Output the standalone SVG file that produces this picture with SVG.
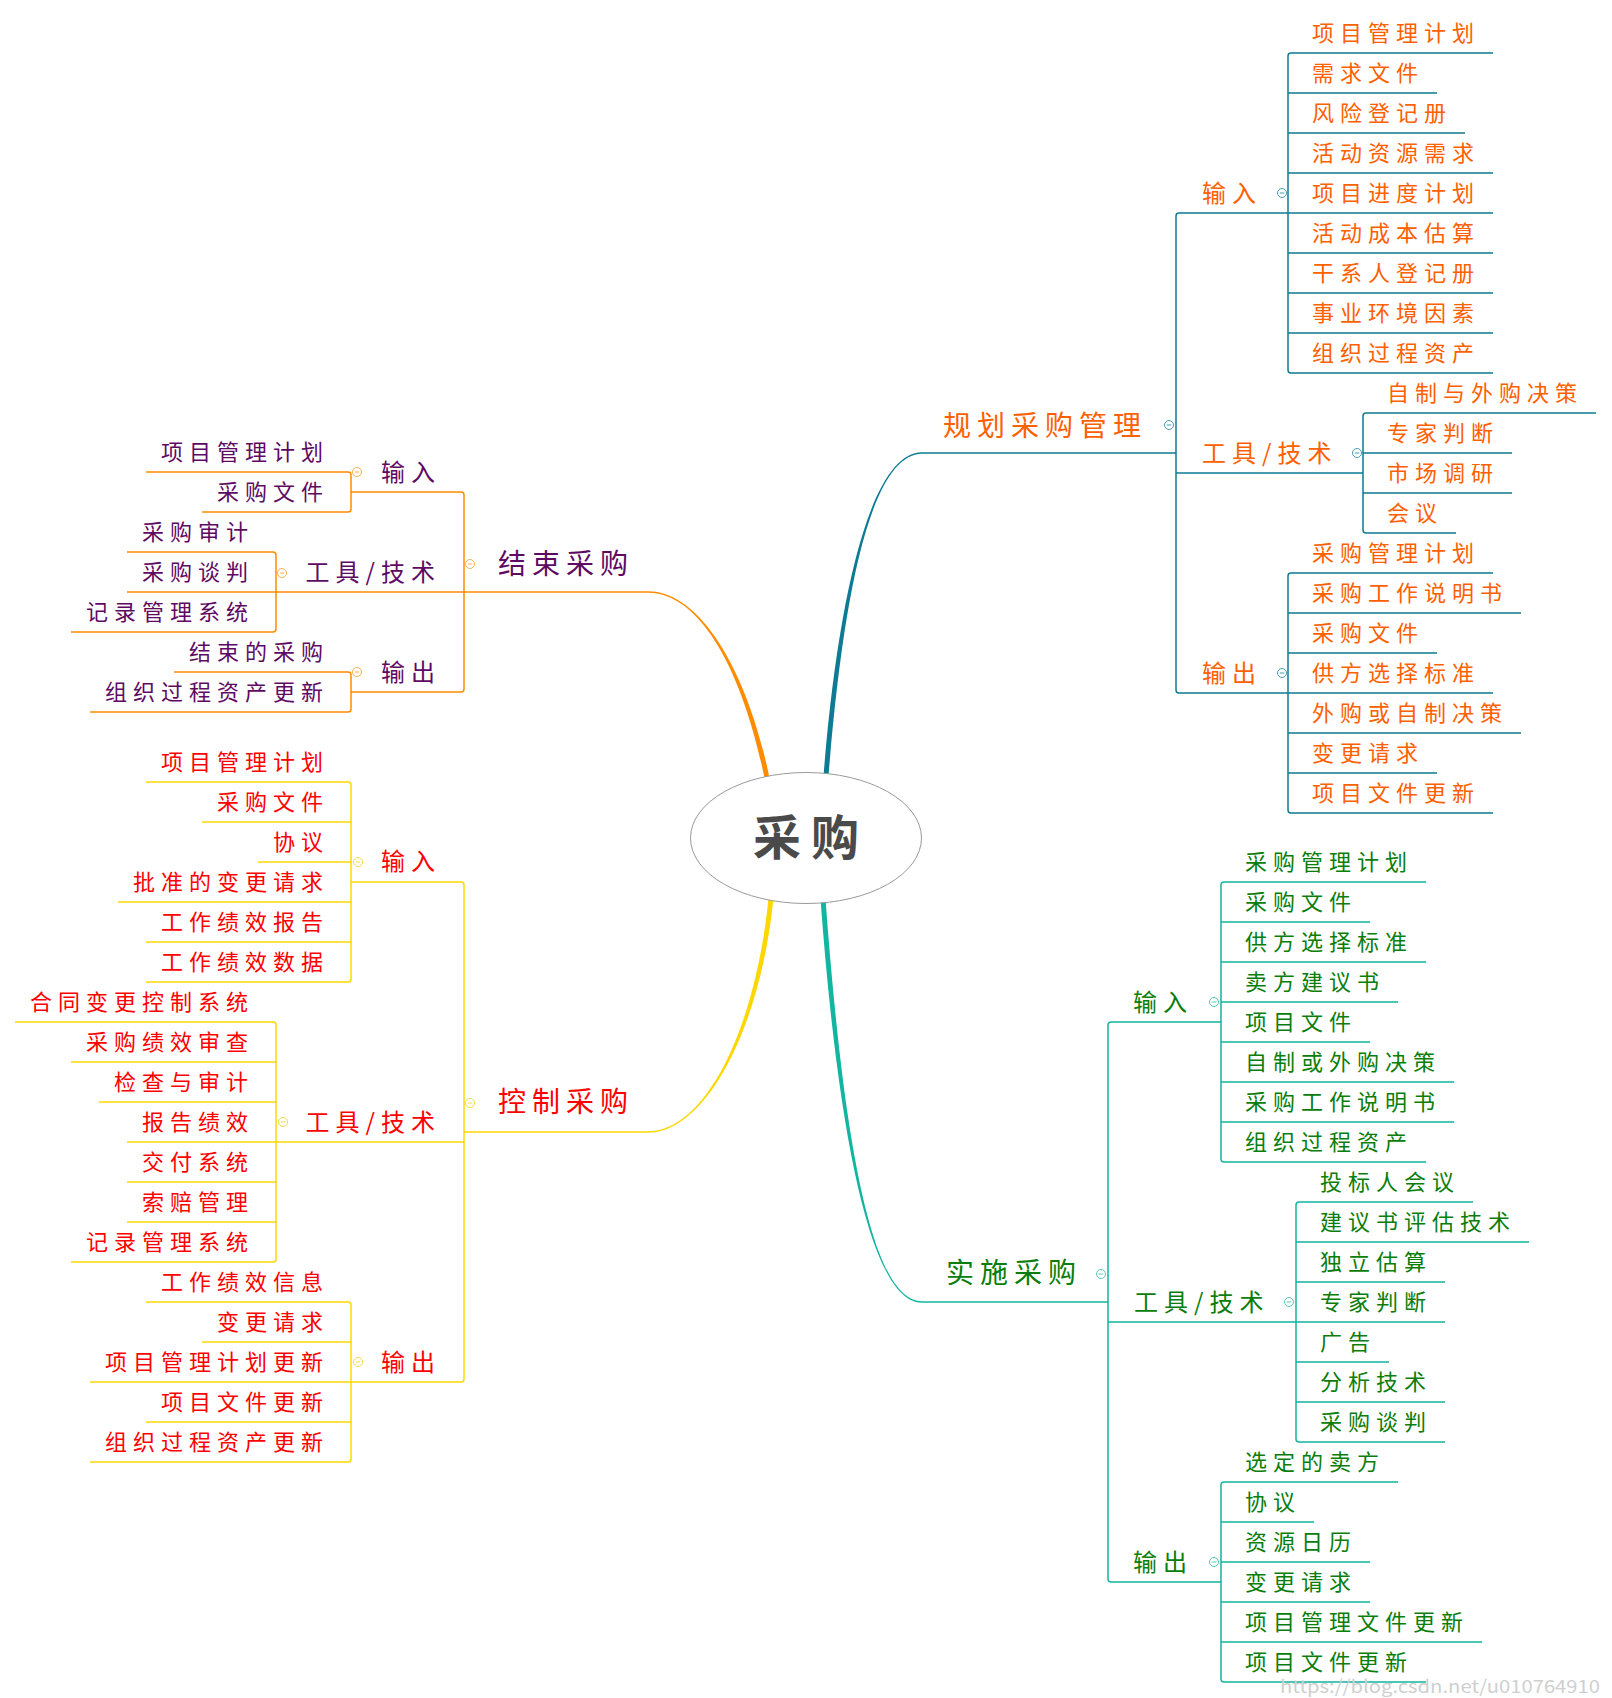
<svg xmlns="http://www.w3.org/2000/svg" width="1612" height="1698" viewBox="0 0 1612 1698">
<style>
text{font-family:"Noto Sans CJK SC","Noto Sans",sans-serif}
.it{font-size:22px;letter-spacing:6px}
.lb{font-size:24px;letter-spacing:6px}
.tt{font-size:28px;letter-spacing:6px}
.c1,.c2,.c3,.c4{fill:none;stroke-width:1.5}
.c1{stroke:#0c7b93}.c2{stroke:#ff8c00}.c3{stroke:#ffd700}.c4{stroke:#12b5a0}
.f1{fill:#0c7b93}.f2{fill:#ff8c00}.f3{fill:#ffd700}.f4{fill:#12b5a0}
.t1{fill:#ff6000}.t2{fill:#5e0a63}.t3{fill:#ff0000}.t4{fill:#0a7d0a}
.e{text-anchor:end}
</style>
<defs>
<g id="tg"><circle r="4.5" fill="#fff" stroke="currentColor" stroke-width="1"/><line x1="-2.3" x2="2.3" y1="0" y2="0" stroke="currentColor" stroke-width="1"/></g>
</defs>
<rect width="1612" height="1698" fill="#fff"/>
<g id="connectors">
<g id="conn-plan">
<path class="f1" d="M823.5,776 C837.5,600 870,452.25 922,452.25 L922,453.75 C870,453.75 842.5,600 828.5,776 Z"/>
<path class="c1" d="M922,453H1176"/>
<path class="c1" d="M1288,213H1179Q1176,213 1176,216V690Q1176,693 1179,693H1288M1176,473H1363"/>
<path class="c1" d="M1493,53H1291Q1288,53 1288,56V370Q1288,373 1291,373H1493M1288,93H1437M1288,133H1465M1288,173H1493M1288,213H1493M1288,253H1493M1288,293H1493M1288,333H1493"/>
<path class="c1" d="M1596,413H1366Q1363,413 1363,416V530Q1363,533 1366,533H1456M1363,453H1512M1363,493H1512"/>
<path class="c1" d="M1493,573H1291Q1288,573 1288,576V810Q1288,813 1291,813H1493M1288,613H1521M1288,653H1437M1288,693H1493M1288,733H1521M1288,773H1437"/>
</g>
<g id="conn-close">
<path class="f2" d="M769.5,778 C747.5,670 700,591.25 648,591.25 L648,592.75 C700,592.75 742.5,670 764.5,778 Z"/>
<path class="c2" d="M648,592H464"/>
<path class="c2" d="M351,492H461Q464,492 464,495V689Q464,692 461,692H351M464,592H276"/>
<path class="c2" d="M146,472H348Q351,472 351,475V509Q351,512 348,512H202"/>
<path class="c2" d="M127,552H273Q276,552 276,555V629Q276,632 273,632H71M276,592H127"/>
<path class="c2" d="M174,672H348Q351,672 351,675V709Q351,712 348,712H90"/>
</g>
<g id="conn-control">
<path class="f3" d="M773.5,898 C760.5,1030 705,1132.75 648,1132.75 L648,1131.25 C705,1131.25 755.5,1030 768.5,898 Z"/>
<path class="c3" d="M648,1132H464"/>
<path class="c3" d="M351,882H461Q464,882 464,885V1379Q464,1382 461,1382H351M464,1142H276"/>
<path class="c3" d="M146,782H348Q351,782 351,785V979Q351,982 348,982H146M351,822H202M351,862H258M351,902H118M351,942H146"/>
<path class="c3" d="M15,1022H273Q276,1022 276,1025V1259Q276,1262 273,1262H71M276,1062H71M276,1102H99M276,1142H127M276,1182H127M276,1222H127"/>
<path class="c3" d="M146,1302H348Q351,1302 351,1305V1459Q351,1462 348,1462H90M351,1342H202M351,1382H90M351,1422H146"/>
</g>
<g id="conn-exec">
<path class="f4" d="M820.5,899 C837.5,1130 870,1302.75 922,1302.75 L922,1301.25 C870,1301.25 842.5,1130 825.5,899 Z"/>
<path class="c4" d="M922,1302H1108"/>
<path class="c4" d="M1221,1022H1111Q1108,1022 1108,1025V1579Q1108,1582 1111,1582H1221M1108,1322H1296"/>
<path class="c4" d="M1426,882H1224Q1221,882 1221,885V1159Q1221,1162 1224,1162H1426M1221,922H1370M1221,962H1426M1221,1002H1398M1221,1042H1370M1221,1082H1454M1221,1122H1454"/>
<path class="c4" d="M1473,1202H1299Q1296,1202 1296,1205V1439Q1296,1442 1299,1442H1445M1296,1242H1529M1296,1282H1445M1296,1322H1445M1296,1362H1389M1296,1402H1445"/>
<path class="c4" d="M1398,1482H1224Q1221,1482 1221,1485V1679Q1221,1682 1224,1682H1426M1221,1522H1314M1221,1562H1370M1221,1602H1370M1221,1642H1482"/>
</g>
</g>
<g id="root">
<ellipse cx="806" cy="838" rx="115.5" ry="65.5" fill="#fff" stroke="#999" stroke-width="1"/>
<text x="753" y="855" font-size="48" font-weight="700" letter-spacing="10" fill="#4a4a4a">采购</text>
</g>
<g id="n-plan">
<text class="tt t1" x="943" y="436">规划采购管理</text>
<use href="#tg" x="1169" y="425" style="color:#4a9ab0"/>
</g>
<g id="n-plan-in">
<text class="lb t1" x="1202" y="202">输入</text>
<use href="#tg" x="1282" y="193" style="color:#4a9ab0"/>
<g class="it t1">
<text x="1312" y="41">项目管理计划</text>
<text x="1312" y="81">需求文件</text>
<text x="1312" y="121">风险登记册</text>
<text x="1312" y="161">活动资源需求</text>
<text x="1312" y="201">项目进度计划</text>
<text x="1312" y="241">活动成本估算</text>
<text x="1312" y="281">干系人登记册</text>
<text x="1312" y="321">事业环境因素</text>
<text x="1312" y="361">组织过程资产</text>
</g>
</g>
<g id="n-plan-tools">
<text class="lb t1" x="1202" y="462">工具/技术</text>
<use href="#tg" x="1357" y="453" style="color:#4a9ab0"/>
<g class="it t1">
<text x="1387" y="401">自制与外购决策</text>
<text x="1387" y="441">专家判断</text>
<text x="1387" y="481">市场调研</text>
<text x="1387" y="521">会议</text>
</g>
</g>
<g id="n-plan-out">
<text class="lb t1" x="1202" y="682">输出</text>
<use href="#tg" x="1282" y="673" style="color:#4a9ab0"/>
<g class="it t1">
<text x="1312" y="561">采购管理计划</text>
<text x="1312" y="601">采购工作说明书</text>
<text x="1312" y="641">采购文件</text>
<text x="1312" y="681">供方选择标准</text>
<text x="1312" y="721">外购或自制决策</text>
<text x="1312" y="761">变更请求</text>
<text x="1312" y="801">项目文件更新</text>
</g>
</g>
<g id="n-close">
<text class="tt t2" x="498" y="574">结束采购</text>
<use href="#tg" x="470" y="564" style="color:#ffb050"/>
</g>
<g id="n-close-in">
<text class="lb t2" x="381" y="481">输入</text>
<use href="#tg" x="357" y="472" style="color:#ffb050"/>
<g class="it t2">
<text x="161" y="460">项目管理计划</text>
<text x="217" y="500">采购文件</text>
</g>
</g>
<g id="n-close-tools">
<text class="lb t2 e" x="441" y="581">工具/技术</text>
<use href="#tg" x="282" y="573" style="color:#ffb050"/>
<g class="it t2">
<text x="142" y="540">采购审计</text>
<text x="142" y="580">采购谈判</text>
<text x="86" y="620">记录管理系统</text>
</g>
</g>
<g id="n-close-out">
<text class="lb t2" x="381" y="681">输出</text>
<use href="#tg" x="357" y="672" style="color:#ffb050"/>
<g class="it t2">
<text x="189" y="660">结束的采购</text>
<text x="105" y="700">组织过程资产更新</text>
</g>
</g>
<g id="n-control">
<text class="tt t3" x="498" y="1112">控制采购</text>
<use href="#tg" x="470" y="1103" style="color:#f5d850"/>
</g>
<g id="n-control-in">
<text class="lb t3" x="381" y="870">输入</text>
<use href="#tg" x="358" y="862" style="color:#f5d850"/>
<g class="it t3">
<text x="161" y="770">项目管理计划</text>
<text x="217" y="810">采购文件</text>
<text x="273" y="850">协议</text>
<text x="133" y="890">批准的变更请求</text>
<text x="161" y="930">工作绩效报告</text>
<text x="161" y="970">工作绩效数据</text>
</g>
</g>
<g id="n-control-tools">
<text class="lb t3 e" x="441" y="1131">工具/技术</text>
<use href="#tg" x="283" y="1122" style="color:#f5d850"/>
<g class="it t3">
<text x="30" y="1010">合同变更控制系统</text>
<text x="86" y="1050">采购绩效审查</text>
<text x="114" y="1090">检查与审计</text>
<text x="142" y="1130">报告绩效</text>
<text x="142" y="1170">交付系统</text>
<text x="142" y="1210">索赔管理</text>
<text x="86" y="1250">记录管理系统</text>
</g>
</g>
<g id="n-control-out">
<text class="lb t3" x="381" y="1371">输出</text>
<use href="#tg" x="358" y="1362" style="color:#f5d850"/>
<g class="it t3">
<text x="161" y="1290">工作绩效信息</text>
<text x="217" y="1330">变更请求</text>
<text x="105" y="1370">项目管理计划更新</text>
<text x="161" y="1410">项目文件更新</text>
<text x="105" y="1450">组织过程资产更新</text>
</g>
</g>
<g id="n-exec">
<text class="tt t4" x="946" y="1283">实施采购</text>
<use href="#tg" x="1101" y="1274" style="color:#5cc8b8"/>
</g>
<g id="n-exec-in">
<text class="lb t4" x="1133" y="1011">输入</text>
<use href="#tg" x="1214" y="1002" style="color:#5cc8b8"/>
<g class="it t4">
<text x="1245" y="870">采购管理计划</text>
<text x="1245" y="910">采购文件</text>
<text x="1245" y="950">供方选择标准</text>
<text x="1245" y="990">卖方建议书</text>
<text x="1245" y="1030">项目文件</text>
<text x="1245" y="1070">自制或外购决策</text>
<text x="1245" y="1110">采购工作说明书</text>
<text x="1245" y="1150">组织过程资产</text>
</g>
</g>
<g id="n-exec-tools">
<text class="lb t4" x="1134" y="1311">工具/技术</text>
<use href="#tg" x="1289" y="1302" style="color:#5cc8b8"/>
<g class="it t4">
<text x="1320" y="1190">投标人会议</text>
<text x="1320" y="1230">建议书评估技术</text>
<text x="1320" y="1270">独立估算</text>
<text x="1320" y="1310">专家判断</text>
<text x="1320" y="1350">广告</text>
<text x="1320" y="1390">分析技术</text>
<text x="1320" y="1430">采购谈判</text>
</g>
</g>
<g id="n-exec-out">
<text class="lb t4" x="1133" y="1571">输出</text>
<use href="#tg" x="1214" y="1562" style="color:#5cc8b8"/>
<g class="it t4">
<text x="1245" y="1470">选定的卖方</text>
<text x="1245" y="1510">协议</text>
<text x="1245" y="1550">资源日历</text>
<text x="1245" y="1590">变更请求</text>
<text x="1245" y="1630">项目管理文件更新</text>
<text x="1245" y="1670">项目文件更新</text>
</g>
</g>
<text id="watermark" x="1280" y="1693" font-family="Liberation Serif, serif" font-size="18" fill="#cfcfcf" textLength="320" lengthAdjust="spacingAndGlyphs">https://blog.csdn.net/u010764910</text>
</svg>
